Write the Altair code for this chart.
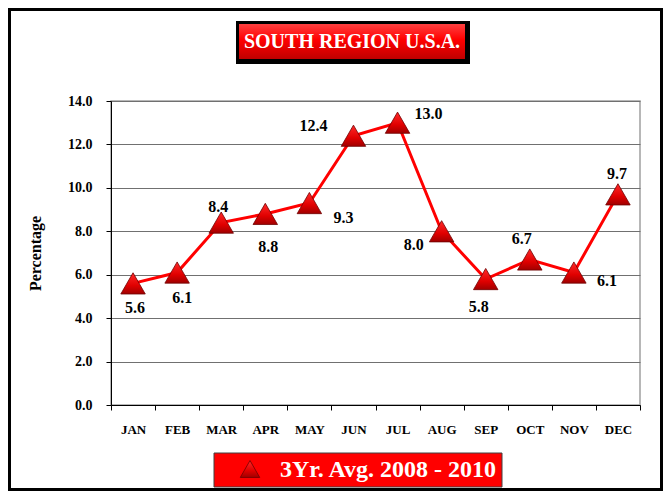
import altair as alt
import pandas as pd

months = ["JAN", "FEB", "MAR", "APR", "MAY", "JUN", "JUL", "AUG", "SEP", "OCT", "NOV", "DEC"]
values = [5.6, 6.1, 8.4, 8.8, 9.3, 12.4, 13.0, 8.0, 5.8, 6.7, 6.1, 9.7]
y_ticks = [0, 2, 4, 6, 8, 10, 12, 14]
chart_title = "SOUTH REGION U.S.A."
series_name = "3Yr. Avg. 2008 - 2010"

# label placement (pixel offsets from each point), styling only
label_offsets = {
    "JAN": (2, 25), "FEB": (5, 25), "MAR": (-3, -16), "APR": (3, 33),
    "MAY": (34, 15), "JUN": (-40, -10), "JUL": (31, -9), "AUG": (-28, 14),
    "SEP": (-7, 28), "OCT": (-8, -21), "NOV": (33, 8), "DEC": (-1, -20),
}

FONT = "Liberation Serif"
W, H = 529, 304

df = pd.DataFrame({"month": months, "value": values})
one = pd.DataFrame({"a": [0]})

tri_fill = alt.Gradient(
    gradient="linear", x1=0, x2=0, y1=0, y2=1,
    stops=[alt.GradientStop(offset=0, color="#ff2a2a"),
           alt.GradientStop(offset=0.6, color="#e00000"),
           alt.GradientStop(offset=1, color="#a00000")],
)
box_fill = alt.Gradient(
    gradient="linear", x1=0, x2=0, y1=0, y2=1,
    stops=[alt.GradientStop(offset=0, color="#ff4040"),
           alt.GradientStop(offset=0.45, color="#ff0000"),
           alt.GradientStop(offset=1, color="#c00000")],
)

x_enc = alt.X(
    "month:N", sort=months, bandPosition=0.5,
    scale=alt.Scale(type="band", paddingInner=0, paddingOuter=0),
    axis=alt.Axis(title=None, labelAngle=0, tickBand="extent", grid=False,
                  domainColor="black", tickColor="black", tickSize=5,
                  labelFont=FONT, labelFontWeight="bold", labelFontSize=13,
                  labelColor="black", labelPadding=13),
)
y_enc = alt.Y(
    "value:Q", scale=alt.Scale(domain=[0, 14]),
    axis=alt.Axis(values=y_ticks, format=".1f", title="Percentage", grid=True,
                  gridColor="#707070", gridWidth=1, domainColor="black",
                  tickColor="black", tickSize=5, labelPadding=14,
                  labelFont=FONT, labelFontWeight="bold", labelFontSize=14,
                  labelColor="black", titleFont=FONT, titleFontWeight="bold",
                  titleFontSize=16, titleColor="black", titlePadding=24),
)

base = alt.Chart(df)
line = base.mark_line(color="#ff0000", strokeWidth=3).encode(x=x_enc, y=y_enc)
points = base.mark_point(shape="triangle-up", filled=True, fill=tri_fill,
                         stroke="#700000", strokeWidth=0.8, size=600,
                         opacity=1).encode(x=x_enc, y=y_enc)

label_layers = []
for m, (dx, dy) in label_offsets.items():
    label_layers.append(
        base.transform_filter(alt.datum.month == m)
        .mark_text(font=FONT, fontWeight="bold", fontSize=16, color="black",
                   dx=dx, dy=dy, baseline="middle", align="center")
        .encode(x=x_enc, y=y_enc, text=alt.Text("value:Q", format=".1f"))
    )

deco = alt.Chart(one)
frame = deco.mark_rect(filled=False, stroke="black", strokeWidth=3).encode(
    x=alt.value(-101.5), x2=alt.value(550.5), y=alt.value(-91.5), y2=alt.value(388.5))
title_shadow = deco.mark_rect(color="black").encode(
    x=alt.value(125), x2=alt.value(359), y=alt.value(-80), y2=alt.value(-37))
title_box = deco.mark_rect(fill=box_fill).encode(
    x=alt.value(128), x2=alt.value(354), y=alt.value(-77), y2=alt.value(-42))
title_text = deco.mark_text(font=FONT, fontWeight="bold", fontSize=20, color="white",
                            baseline="middle", align="center").encode(
    x=alt.value(241), y=alt.value(-59), text=alt.value(chart_title))
legend_box = deco.mark_rect(color="#ff0000", stroke="#404040", strokeWidth=1).encode(
    x=alt.value(103), x2=alt.value(391), y=alt.value(352), y2=alt.value(386))
legend_tri = deco.mark_point(shape="triangle-up", filled=True, fill=tri_fill,
                             stroke="#700000", strokeWidth=0.8, size=380,
                             opacity=1).encode(x=alt.value(139), y=alt.value(368))
legend_text = deco.mark_text(font=FONT, fontWeight="bold", fontSize=24, color="white",
                             baseline="middle", align="left").encode(
    x=alt.value(169), y=alt.value(369), text=alt.value(series_name))

chart = alt.layer(
    line, points, *label_layers,
    frame, title_shadow, title_box, title_text, legend_box, legend_tri, legend_text,
).properties(
    width=W, height=H,
    autosize=alt.AutoSizeParams(type="none"),
    padding={"left": 103, "top": 93, "right": 23, "bottom": 86},
    background="white",
).configure_view(stroke="#a0a0a0", strokeWidth=1.5)

chart.save("out.html", embed_options={"renderer": "svg", "actions": False})
